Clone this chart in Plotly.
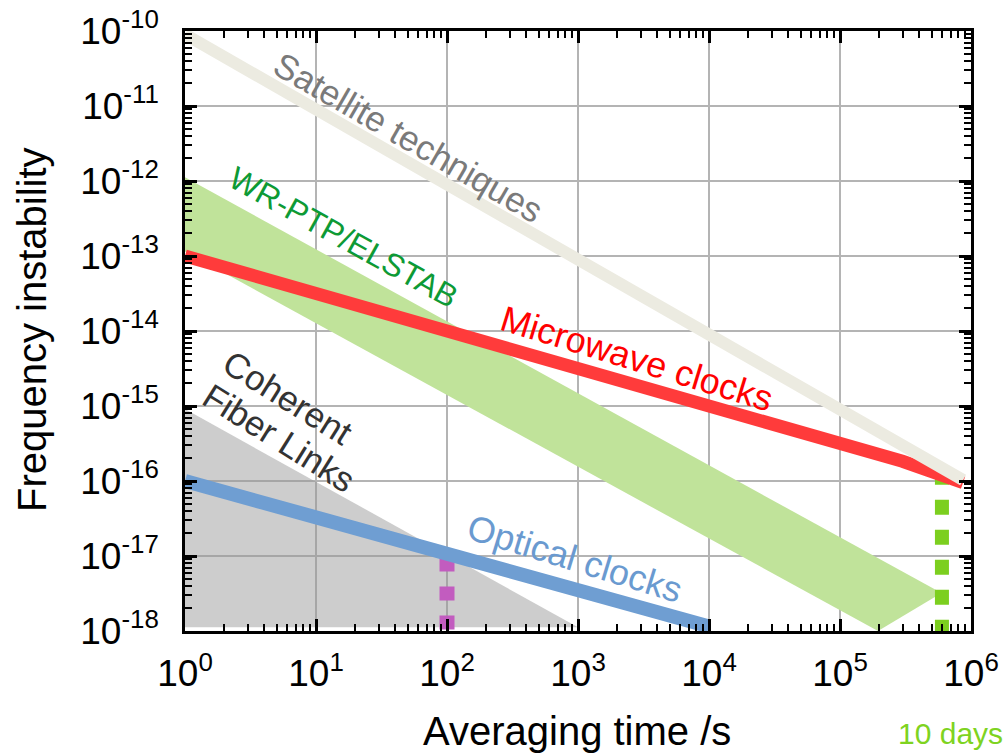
import math
import plotly.graph_objects as go

# ---------------- data ----------------
x_tickvals = [1, 10, 100, 1e3, 1e4, 1e5, 1e6]
x_ticktext = ["10<sup>0</sup>", "10<sup>1</sup>", "10<sup>2</sup>", "10<sup>3</sup>",
              "10<sup>4</sup>", "10<sup>5</sup>", "10<sup>6</sup>"]
y_tickvals = [1e-18, 1e-17, 1e-16, 1e-15, 1e-14, 1e-13, 1e-12, 1e-11, 1e-10]
y_ticktext = ["10<sup>-18</sup>", "10<sup>-17</sup>", "10<sup>-16</sup>", "10<sup>-15</sup>",
              "10<sup>-14</sup>", "10<sup>-13</sup>", "10<sup>-12</sup>", "10<sup>-11</sup>",
              "10<sup>-10</sup>"]

# Coherent fiber links (grey region)
fiber_tau = [1, 1e3, 1]
fiber_sigma = [9.1e-16, 1.12e-18, 1.12e-18]

# WR-PTP / ELSTAB (green band)
wr_tau = [1, 5.96e5, 1.95e5, 1]
wr_sigma = [1.12e-12, 3.2e-18, 1.0e-18, 1.15e-13]

# Optical clocks
opt_tau = [1, 1e4]
opt_sigma = [1.0e-16, 1.15e-18]

# Microwave clocks
mw_tau = [1, 3e5, 8.7e5]
mw_sigma = [1.0e-13, 1.83e-16, 9.5e-17]

# Satellite techniques
sat_tau = [1, 8.7e5]
sat_sigma = [9.0e-11, 1.03e-16]

# 100 s marker (magenta dotted)
m100_tau = [100, 100]
m100_sigma = [1.05e-18, 1.0e-17]

# 10 days marker (green dotted)
d10_tau = [6.0e5, 6.0e5]
d10_sigma = [8.9e-19, 1.1e-16]

FONT = "Liberation Sans, Arial, sans-serif"

fig = go.Figure()

fig.add_trace(go.Scatter(x=fiber_tau, y=fiber_sigma, mode="lines", fill="toself",
                         fillcolor="rgba(150,150,150,0.48)", line=dict(width=0),
                         hoverinfo="skip", showlegend=False))
fig.add_trace(go.Scatter(x=wr_tau, y=wr_sigma, mode="lines", fill="toself",
                         fillcolor="#c0e39a", line=dict(width=0),
                         hoverinfo="skip", showlegend=False))
fig.add_trace(go.Scatter(x=m100_tau, y=m100_sigma, mode="lines",
                         line=dict(color="#c25cbf", width=15, dash="14px,15px"),
                         showlegend=False))
fig.add_trace(go.Scatter(x=d10_tau, y=d10_sigma, mode="lines",
                         line=dict(color="#7ccf1f", width=14, dash="15px,15px"),
                         showlegend=False))
fig.add_trace(go.Scatter(x=opt_tau, y=opt_sigma, mode="lines",
                         line=dict(color="#6f9ed2", width=14), showlegend=False))
fig.add_trace(go.Scatter(x=mw_tau, y=mw_sigma, mode="lines",
                         line=dict(color="#ff3b3b", width=13), showlegend=False))
fig.add_trace(go.Scatter(x=sat_tau, y=sat_sigma, mode="lines",
                         line=dict(color="#ecebe1", width=12), showlegend=False))
# invisible traces that carry the overlay axes used for the tick marks on all four sides
fig.add_trace(go.Scatter(x=opt_tau, y=opt_sigma, mode="none", xaxis="x2", yaxis="y2",
                         hoverinfo="skip", showlegend=False))
fig.add_trace(go.Scatter(x=opt_tau, y=opt_sigma, mode="none", xaxis="x3", yaxis="y3",
                         hoverinfo="skip", showlegend=False))

L, R, T, B = 185, 971, 31, 631
PW, PH = R - L, B - T

def lx(px):
    return (px - L) / (PW / 6.0)

def ly(py):
    return -10 - (py - T) / (PH / 8.0)

def px_(px):
    return (px - L) / PW

def py_(py):
    return (B - py) / PH

annos = [
    dict(text="Satellite techniques", x=lx(409), y=ly(137), textangle=30, color="#7a7a7a", size=35),
    dict(text="WR-PTP/ELSTAB", x=lx(343), y=ly(237), textangle=29, color="#0d9a35", size=32),
    dict(text="Microwave clocks", x=lx(637), y=ly(358), textangle=17, color="#ff0000", size=36),
    dict(text="Coherent", x=lx(288), y=ly(397), textangle=32, color="#333333", size=35),
    dict(text="Fiber Links", x=lx(279), y=ly(437), textangle=32, color="#333333", size=35),
    dict(text="Optical clocks", x=lx(575), y=ly(558), textangle=17, color="#6a9ad0", size=36),
]
for a in annos:
    fig.add_annotation(text=a["text"], x=a["x"], y=a["y"], xref="x", yref="y",
                       xanchor="center", yanchor="middle",
                       showarrow=False, textangle=a["textangle"],
                       font=dict(family=FONT, size=a["size"], color=a["color"]))

fig.add_annotation(text="10 days", x=px_(1005), y=py_(733), xref="paper", yref="paper",
                   xanchor="right", yanchor="middle", showarrow=False,
                   font=dict(family=FONT, size=30, color="#7ed321"))
fig.add_annotation(text="Averaging time /s", x=px_(577), y=py_(731),
                   xref="paper", yref="paper", xanchor="center", yanchor="middle",
                   showarrow=False, font=dict(family=FONT, size=40, color="black"))
fig.add_annotation(text="Frequency instability", x=px_(32), y=py_(330),
                   xref="paper", yref="paper", xanchor="center", yanchor="middle",
                   showarrow=False, textangle=-90,
                   font=dict(family=FONT, size=40, color="black"))

main_axis = dict(
    type="log", ticks="", showline=True, linewidth=2.5, linecolor="black",
    mirror=True, showgrid=True, gridcolor="#b4b4b4", gridwidth=1.5, zeroline=False,
    automargin=False, tickfont=dict(family=FONT, size=37, color="black"),
)
tick_axis = dict(
    type="log", tickmode="linear", tick0=0, dtick=1, showticklabels=False,
    ticks="inside", ticklen=12, tickwidth=2.5, tickcolor="black",
    showline=False, mirror=False, showgrid=False, zeroline=False,
    automargin=False, layer="above traces",
    minor=dict(ticks="inside", ticklen=7, tickwidth=2, tickcolor="black",
               dtick="D1", showgrid=False),
)

fig.update_layout(
    width=1008, height=756,
    margin=dict(l=L, r=1008 - R, t=T, b=756 - B, autoexpand=False),
    paper_bgcolor="white", plot_bgcolor="white",
    showlegend=False,
    xaxis=dict(main_axis, range=[0, 6], tickmode="array", tickvals=x_tickvals,
               ticktext=x_ticktext, ticklabelstandoff=8),
    yaxis=dict(main_axis, range=[-18, -10], tickmode="array", tickvals=y_tickvals,
               ticktext=y_ticktext, ticklabelstandoff=16),
    xaxis2=dict(tick_axis, range=[0, 6], overlaying="x", anchor="y2", side="bottom"),
    yaxis2=dict(tick_axis, range=[-18, -10], overlaying="y", anchor="x2", side="left"),
    xaxis3=dict(tick_axis, range=[0, 6], overlaying="x", anchor="y3", side="top"),
    yaxis3=dict(tick_axis, range=[-18, -10], overlaying="y", anchor="x3", side="right"),
)

fig.write_html("out.html", config={"displayModeBar": False},
               post_script="document.body.style.margin='0';document.body.style.overflow='hidden';")
